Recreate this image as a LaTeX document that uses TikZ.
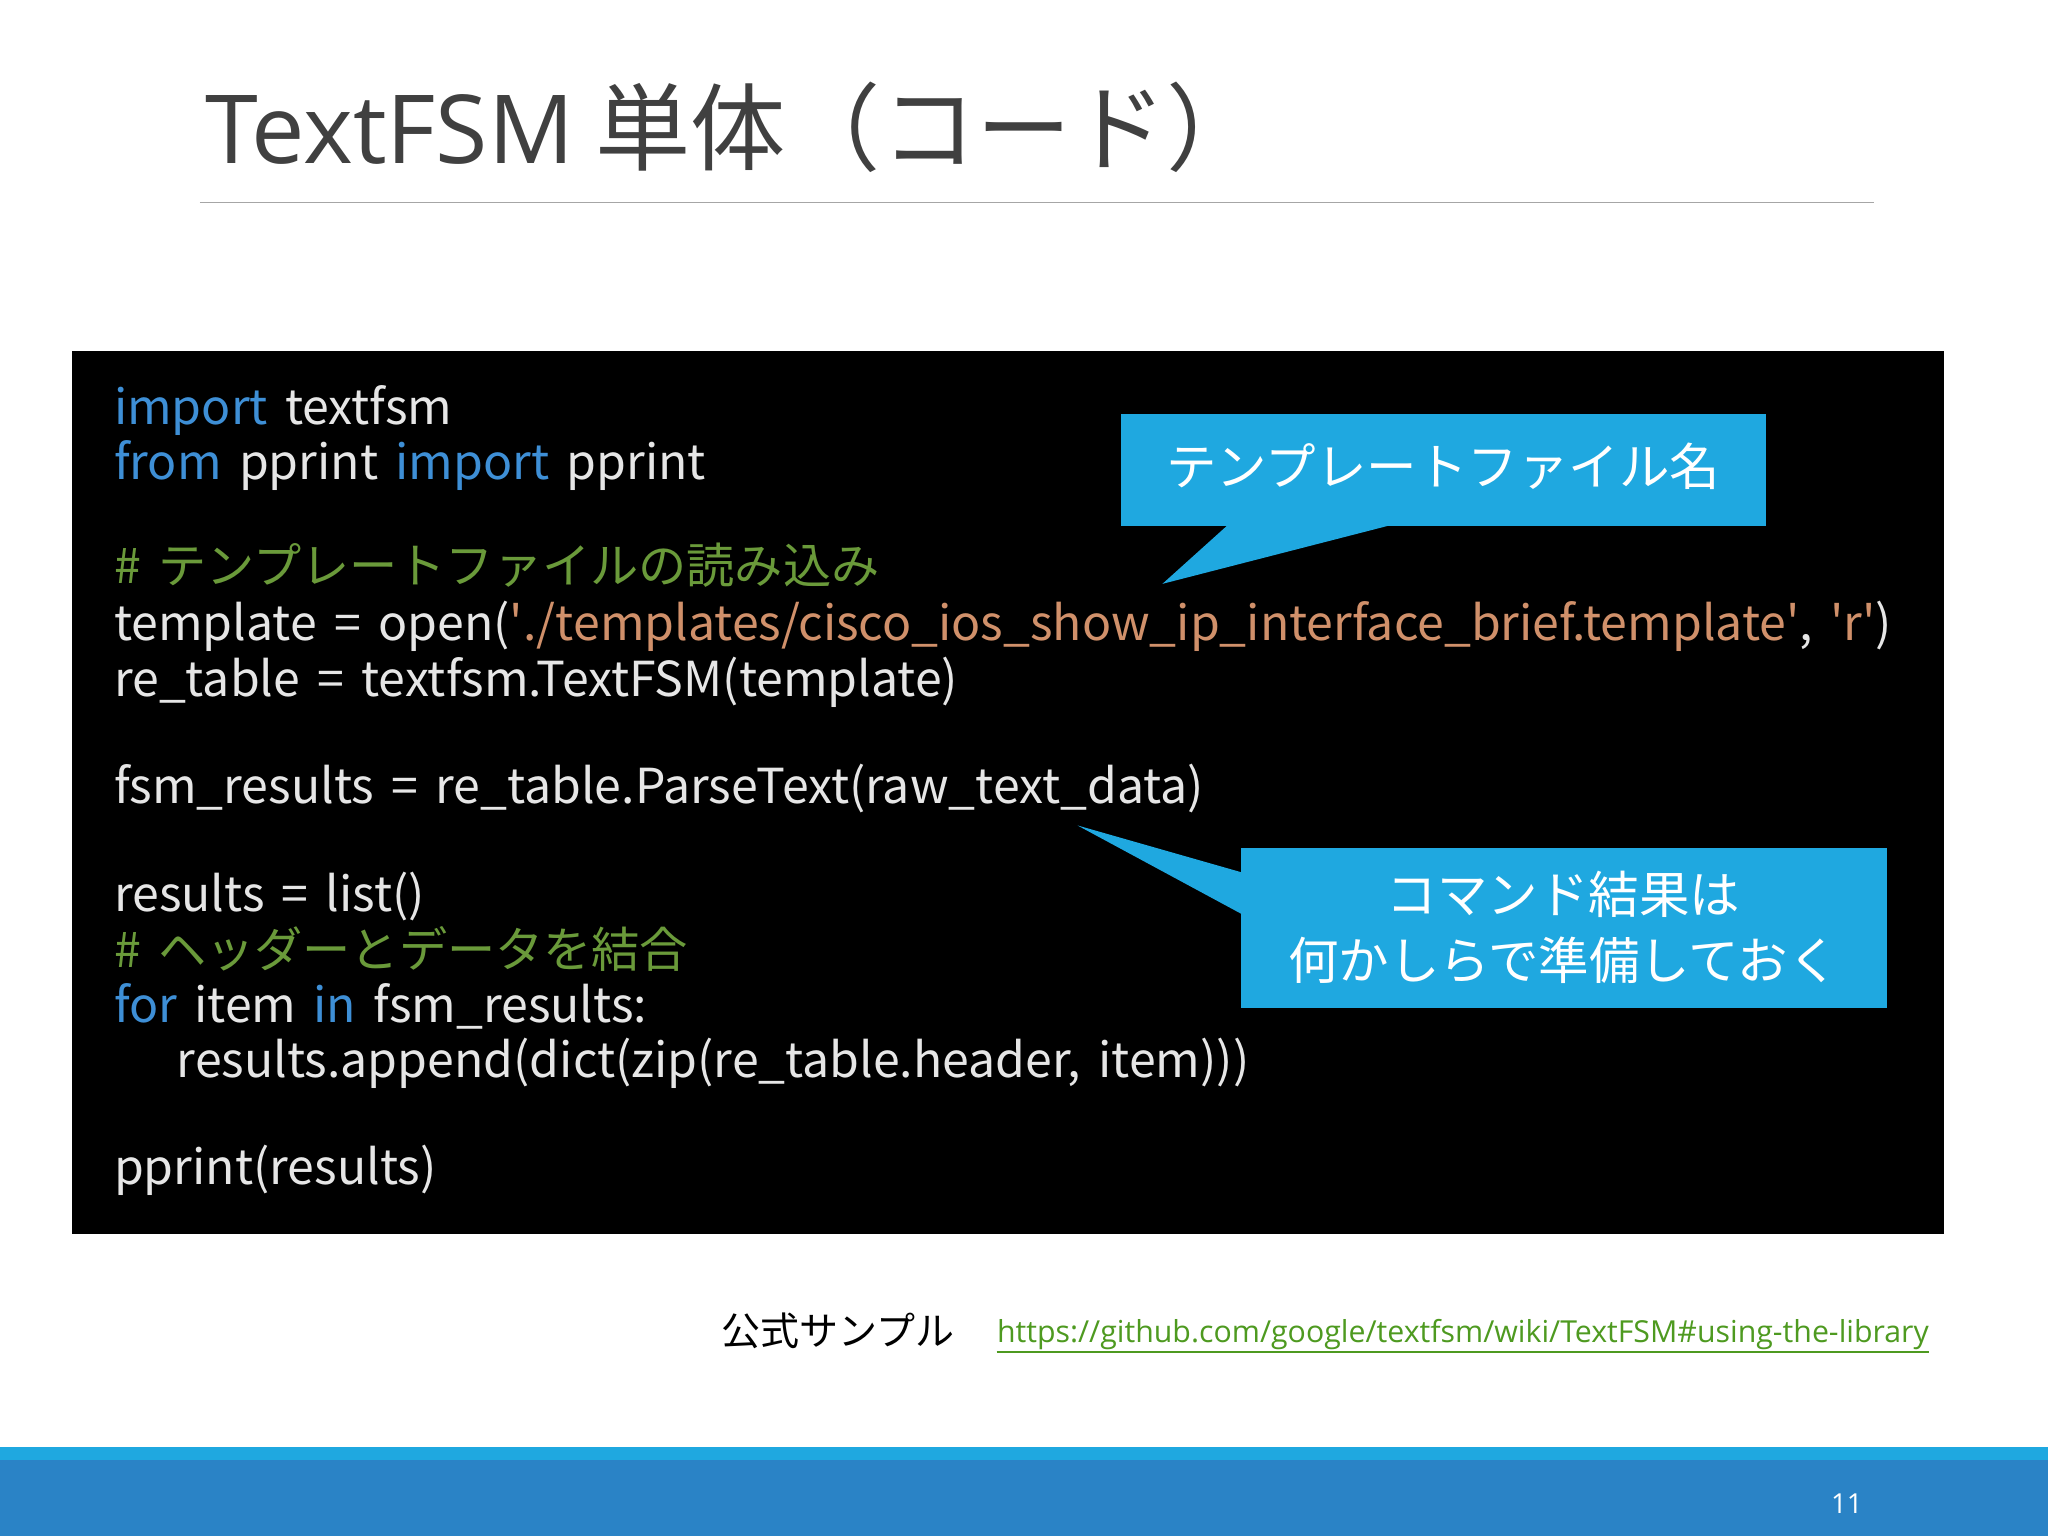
\documentclass[tikz,border=0pt]{standalone}
\usepackage{fontspec}
\setmainfont{Noto Sans CJK JP}
\newfontfamily\lat{Open Sans}
\newfontfamily\cod[WordSpace=1.6]{Noto Sans CJK JP}
\newcommand{\q}{\textquotesingle}
\begin{document}
\begin{tikzpicture}[x=0.02cm,y=-0.02cm]
\definecolor{kw}{HTML}{3E8FD6}
\definecolor{cm}{HTML}{6A9A3A}
\definecolor{st}{HTML}{D0906A}
\definecolor{tx}{HTML}{E6E6E6}
\definecolor{cb}{HTML}{1FA8E0}
\definecolor{bar}{HTML}{2A83C6}
\definecolor{lk}{HTML}{4E9A20}
\tikzset{code/.style={anchor=base west,inner sep=0pt,text=tx,font=\cod\fontsize{21}{24}\selectfont},
 call/.style={fill=cb,draw=none},
 ctext/.style={text=white,font=\fontsize{22}{29}\selectfont,align=center}}
\useasboundingbox (0,0) rectangle (1568,1176);
\fill[white] (0,0) rectangle (1568,1176);
\node[anchor=base west,inner sep=0pt,text=black!75,font=\fontsize{41.5}{50}\selectfont] (title) at (157,125) {{\lat TextFSM} 単体（コード）};
\draw[gray!70,line width=0.6pt] (153,155) coordinate (l1) -- (1435,155) coordinate (l2);
\fill[black] (55,269) rectangle (1488,945);
\node[code] (c1) at (87,325) {{\color{kw}import} textfsm};
\node[code] (c2) at (87,367) {{\color{kw}from} pprint {\color{kw}import} pprint};
\node[code,text=cm] (c3) at (87,447) {\# テンプレートファイルの読み込み};
\node[code] (c4) at (87,490) {template = open({\color{st}\q./templates/cisco\_ios\_show\_ip\_interface\_brief.template\q}, {\color{st}\q r\q})};
\node[code] (c5) at (87,533) {re\_table = textfsm.TextFSM(template)};
\node[code] (c6) at (87,615) {fsm\_results = re\_table.ParseText(raw\_text\_data)};
\node[code] (c7) at (87,698) {results = list()};
\node[code,text=cm] (c8) at (87,741) {\# ヘッダーとデータを結合};
\node[code] (c9) at (87,783) {{\color{kw}for} item {\color{kw}in} fsm\_results:};
\node[code] (c10) at (135,825) {results.append(dict(zip(re\_table.header, item)))};
\node[code] (c11) at (87,907) {pprint(results)};
% callout 1
\coordinate (t1) at (890,447);
\fill[call] (858,317) rectangle (1352,403);
\fill[call] (940,402) -- (t1) -- (1065,402) -- cycle;
\node[ctext] (n1) at (1105,357) {テンプレートファイル名};
% callout 2
\coordinate (t2) at (825,632);
\fill[call] (950,649) rectangle (1445,772);
\fill[call] (951,668) -- (t2) -- (951,700) -- cycle;
\node[ctext] (n2) at (1197,710) {コマンド結果は\\何かしらで準備しておく};
% footer
\node[anchor=base west,inner sep=0pt,font=\fontsize{17}{20}\selectfont] (f1) at (552,1030) {公式サンプル};
\node[anchor=base west,inner sep=0pt,text=lk,font=\lat\fontsize{13.2}{16}\selectfont] (f2) at (763,1028) {https://github.com/google/textfsm/wiki/TextFSM\#using-the-library};
\draw[lk,line width=0.6pt] ([yshift=-4]f2.base west) -- ([yshift=-4]f2.base east);
\fill[bar] (0,1108) rectangle (1568,1176);
\fill[cb] (0,1108) rectangle (1568,1118);
\node[text=white,font=\lat\fontsize{12}{14}\selectfont] (pg) at (1414,1151) {11};
\end{tikzpicture}
\end{document}
